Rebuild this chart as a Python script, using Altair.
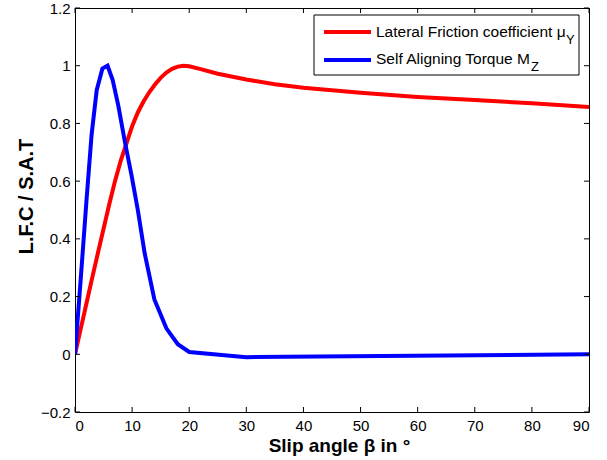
import altair as alt
import pandas as pd

# ---- data ----
lfc_deg = [0, 1, 2, 3, 4, 5, 6, 7, 8, 9, 10, 11, 12, 13, 14, 15, 16, 17, 18, 19, 20, 22, 25, 30, 35, 40, 50, 60, 70, 80, 90]
lfc_val = [0, 0.088, 0.176, 0.264, 0.35, 0.435, 0.52, 0.6, 0.67, 0.73, 0.79, 0.838, 0.876, 0.908, 0.935, 0.958, 0.976, 0.989, 0.997, 1.0, 0.998, 0.988, 0.972, 0.952, 0.936, 0.924, 0.906, 0.892, 0.881, 0.870, 0.857]

sat_deg = [0, 1, 2, 2.9, 3.8, 4.8, 5.7, 6.6, 7.6, 8.7, 9.9, 11.0, 12.2, 13.9, 16.0, 18.0, 20.0, 30, 90]
sat_val = [0, 0.26, 0.53, 0.76, 0.915, 0.99, 1.0, 0.95, 0.86, 0.74, 0.62, 0.5, 0.35, 0.19, 0.09, 0.035, 0.008, -0.01, 0.0]

x_ticks = [0, 10, 20, 30, 40, 50, 60, 70, 80, 90]
y_ticks = [-0.2, 0, 0.2, 0.4, 0.6, 0.8, 1.0, 1.2]

series_names = ["Lateral Friction coefficient", "Self Aligning Torque"]
series_colors = ["#ff0000", "#0000ff"]

FONT = "Liberation Sans"
W, H = 514, 404

df = pd.concat([
    pd.DataFrame({"beta": lfc_deg, "v": lfc_val, "s": series_names[0]}),
    pd.DataFrame({"beta": sat_deg, "v": sat_val, "s": series_names[1]}),
])

xs = alt.Scale(domain=[0, 90], nice=False, zero=False)
ys = alt.Scale(domain=[-0.2, 1.2], nice=False, zero=False)

lines = alt.Chart(df).mark_line(strokeWidth=4, clip=True).encode(
    x=alt.X("beta:Q", scale=xs, axis=alt.Axis(
        values=x_ticks, ticks=False, domain=False, grid=False,
        labelFont=FONT, labelFontSize=15, labelColor="black", labelPadding=6,
        title="Slip angle β in  °", titleFont=FONT, titleFontSize=19, titleFontWeight="bold",
        titleColor="black", titleX=264, titleY=33, titleBaseline="middle", titleAlign="center")),
    y=alt.Y("v:Q", scale=ys, axis=alt.Axis(
        values=y_ticks, ticks=False, domain=False, grid=False, format="~g",
        labelFont=FONT, labelFontSize=15, labelColor="black", labelPadding=5,
        title="L.F.C / S.A.T", titleFont=FONT, titleFontSize=20, titleFontWeight="bold",
        titleColor="black", titleX=-49, titleY=188, titleBaseline="middle", titleAlign="center", titleAngle=-90)),
    color=alt.Color("s:N", scale=alt.Scale(domain=series_names, range=series_colors), legend=None),
)

xt = pd.DataFrame({"t": x_ticks})
yt = pd.DataFrame({"t": y_ticks})
tick_bottom = alt.Chart(xt).mark_rule(color="black", strokeWidth=1).encode(
    x=alt.X("t:Q", scale=xs), y=alt.value(H), y2=alt.value(H - 5))
tick_top = alt.Chart(xt).mark_rule(color="black", strokeWidth=1).encode(
    x=alt.X("t:Q", scale=xs), y=alt.value(0), y2=alt.value(5))
tick_left = alt.Chart(yt).mark_rule(color="black", strokeWidth=1).encode(
    y=alt.Y("t:Q", scale=ys), x=alt.value(0), x2=alt.value(5))
tick_right = alt.Chart(yt).mark_rule(color="black", strokeWidth=1).encode(
    y=alt.Y("t:Q", scale=ys), x=alt.value(W), x2=alt.value(W - 5))

# ---- manual legend (to allow subscripts) ----
one = pd.DataFrame({"a": [0]})
leg_box = alt.Chart(one).mark_rect(fill="white", stroke="black", strokeWidth=1).encode(
    x=alt.value(239), x2=alt.value(504), y=alt.value(7), y2=alt.value(67))
leg_red = alt.Chart(one).mark_rule(color=series_colors[0], strokeWidth=4).encode(
    x=alt.value(249), x2=alt.value(296), y=alt.value(24))
leg_blue = alt.Chart(one).mark_rule(color=series_colors[1], strokeWidth=4).encode(
    x=alt.value(249), x2=alt.value(296), y=alt.value(52))

def txt(s, x, y, size=15.5):
    return alt.Chart(pd.DataFrame({"s": [s]})).mark_text(
        font=FONT, fontSize=size, color="black", align="left", baseline="alphabetic"
    ).encode(text="s:N", x=alt.value(x), y=alt.value(y))

leg_t1 = txt(series_names[0] + " μ", 301, 29)
leg_s1 = txt("Y", 491, 36, 13)
leg_t2 = txt(series_names[1] + " M", 301, 56)
leg_s2 = txt("Z", 456, 63, 13)

chart = alt.layer(
    lines, tick_bottom, tick_top, tick_left, tick_right,
    leg_box, leg_red, leg_blue, leg_t1, leg_s1, leg_t2, leg_s2,
).properties(
    width=W, height=H,
    padding={"left": 75, "top": 8, "right": 18, "bottom": 48},
    autosize=alt.AutoSizeParams(type="none"),
    background="white",
).configure_view(stroke="black", strokeWidth=1)

chart.save("out.html", embed_options={"renderer": "svg", "actions": False})
